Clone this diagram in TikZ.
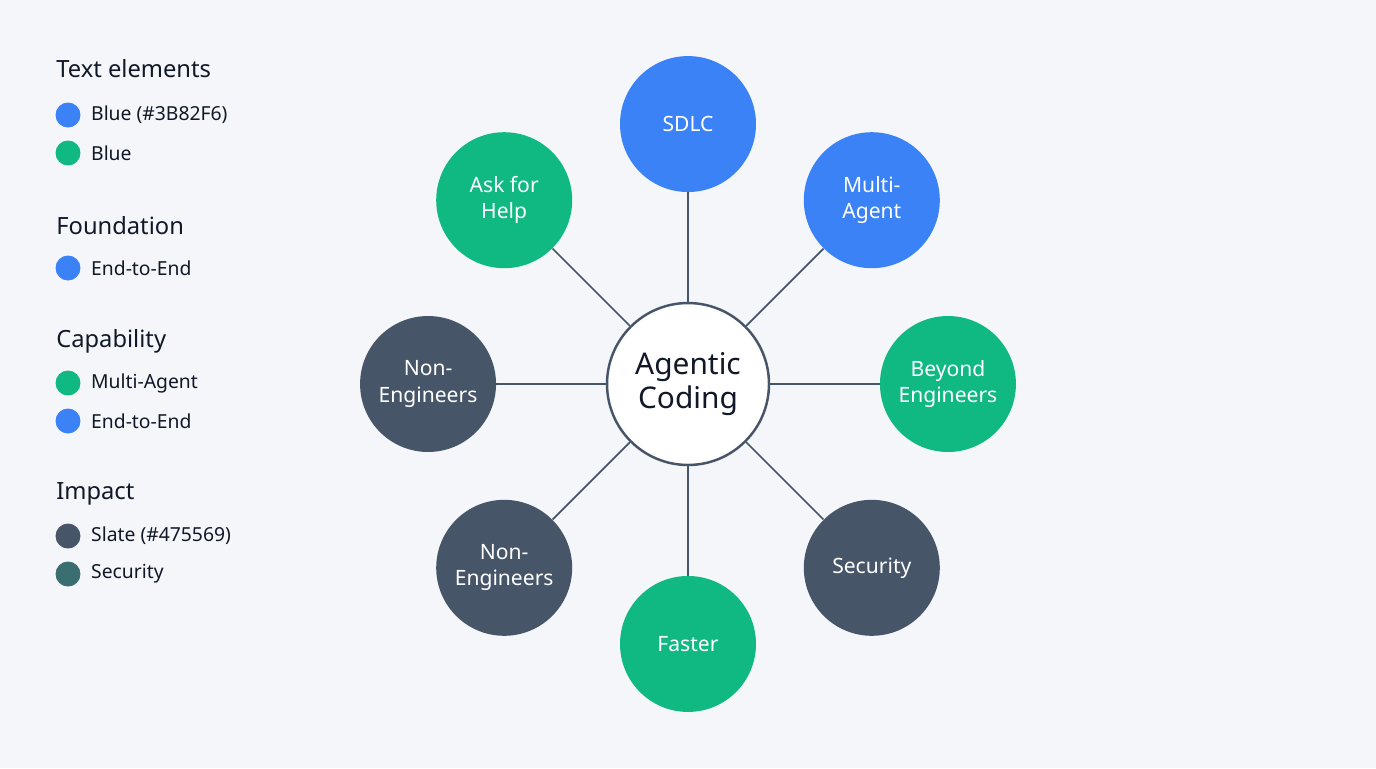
\documentclass[tikz,border=0pt]{standalone}
\usepackage{fontspec}
\setmainfont{Noto Sans}
\usetikzlibrary{positioning,calc}
\definecolor{bgc}{HTML}{F4F6F9}
\definecolor{blu}{HTML}{3B82F6}
\definecolor{grn}{HTML}{10B981}
\definecolor{slt}{HTML}{475569}
\definecolor{tea}{HTML}{3A6E70}
\definecolor{ink}{HTML}{111827}
\begin{document}
\begin{tikzpicture}[x=0.02cm,y=-0.02cm,
  hub/.style={circle,draw=slt,line width=1.4pt,fill=white,minimum size=3.24cm,inner sep=0pt,align=center,text=ink,font=\fontsize{17}{19}\selectfont\bfseries},
  leaf/.style={circle,minimum size=2.72cm,inner sep=0pt,align=center,text=white,font=\fontsize{12}{15}\selectfont},
  link/.style={draw=slt,line width=1pt},
  dot/.style={circle,minimum size=0.5cm,inner sep=0pt},
  item/.style={right=0.2cm of #1,font=\fontsize{11}{13}\selectfont,text=ink,inner sep=0pt},
  head/.style={anchor=west,font=\fontsize{13.5}{15}\selectfont\bfseries,text=ink,inner sep=0pt}]
  \fill[bgc] (0,0) rectangle (1376,768);
  \useasboundingbox (0,0) rectangle (1376,768);

  % hub and spokes
  \node[hub] (core) at (688,384) {Agentic\\Coding};
  \foreach \name/\ang/\col/\txt in {sdlc/90/blu/SDLC, multi/45/blu/Multi-\\Agent,
      beyond/0/grn/Beyond\\Engineers, secur/-45/slt/Security, fast/-90/grn/Faster,
      nonb/-135/slt/Non-\\Engineers, nonl/180/slt/Non-\\Engineers, ask/135/grn/Ask for\\Help}
  {
    \node[leaf,fill=\col] (\name) at ($(core)+(\ang:5.2cm)$) {\txt};
    \draw[link] (core) -- (\name);
  }

  % legend
  \node[head] (h1) at (56,69) {Text elements};
  \node[dot,fill=blu] (d1) at (68,115) {};
  \node[item=d1] {Blue (\#3B82F6)};
  \node[dot,fill=grn] (d2) at (68,153) {};
  \node[item=d2] {Blue};
  \node[head] (h2) at (56,226) {Foundation};
  \node[dot,fill=blu] (d3) at (68,268) {};
  \node[item=d3] {End-to-End};
  \node[head] (h3) at (56,341) {Capability};
  \node[dot,fill=grn] (d4) at (68,383) {};
  \node[item=d4] {Multi-Agent};
  \node[dot,fill=blu] (d5) at (68,421) {};
  \node[item=d5] {End-to-End};
  \node[head] (h4) at (56,494) {Impact};
  \node[dot,fill=slt] (d6) at (68,536) {};
  \node[item=d6] {Slate (\#475569)};
  \node[dot,fill=tea] (d7) at (68,574) {};
  \node[item=d7] {Security};
\end{tikzpicture}
\end{document}
